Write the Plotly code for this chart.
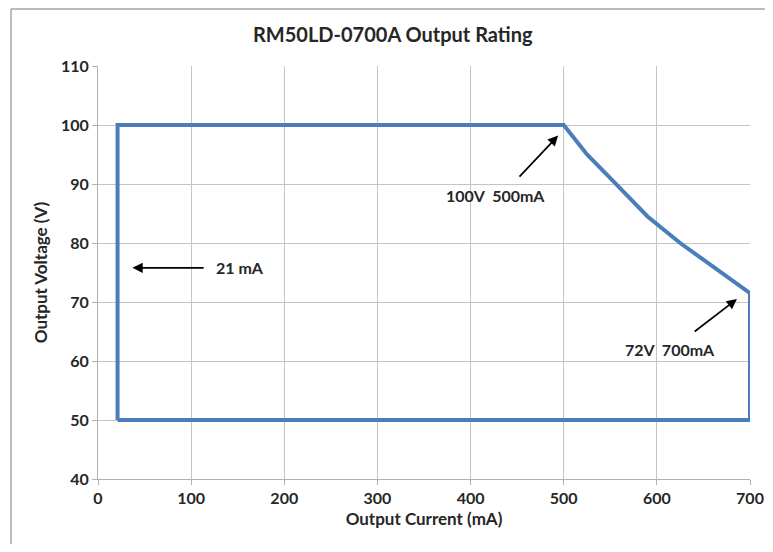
import plotly.graph_objects as go

# Data
current_ma = [21, 21, 500, 525, 550, 590, 625, 660, 700, 700, 21]
voltage_v = [50, 100, 100, 95, 91, 84.5, 80, 76, 71.5, 50, 50]

x_ticks = [0, 100, 200, 300, 400, 500, 600, 700]
y_ticks = [40, 50, 60, 70, 80, 90, 100, 110]

# annotations: (label, text_x, text_y, head_x, head_y, tail_x, tail_y)
notes = [
    ("21 mA", 152, 75.8, 37, 75.8, 115, 75.8),
    ("100V  500mA", 427, 88.1, 494, 98.2, 451, 91.0),
    ("72V  700mA", 614, 61.9, 686, 70.5, 639, 64.8),
]

FONT = "Lato"
TXT = "#262626"

fig = go.Figure()
fig.add_trace(go.Scatter(x=current_ma, y=voltage_v, mode="lines",
                         line=dict(color="#4A7EBB", width=4),
                         showlegend=False, hoverinfo="skip"))

for label, tx, ty, hx, hy, ax, ay in notes:
    fig.add_annotation(x=hx, y=hy, ax=ax, ay=ay, xref="x", yref="y",
                       axref="x", ayref="y", text="", showarrow=True,
                       arrowhead=2, arrowsize=1.2, arrowwidth=1.7,
                       arrowcolor="black")
    fig.add_annotation(x=tx, y=ty, xref="x", yref="y", text=f"<b>{label}</b>",
                       showarrow=False,
                       font=dict(family=FONT, size=16, color=TXT))

# outer chart border (left and top visible in reference)
fig.add_shape(type="line", xref="paper", yref="paper",
              x0=-0.1334, y0=-0.3, x1=-0.1334, y1=1.138,
              line=dict(color="#a6a6a6", width=1.5))
fig.add_shape(type="line", xref="paper", yref="paper",
              x0=-0.1334, y0=1.138, x1=1.2, y1=1.138,
              line=dict(color="#a6a6a6", width=1.5))

fig.update_layout(
    width=765, height=536,
    margin=dict(l=90, r=23, t=58, b=65),
    paper_bgcolor="white", plot_bgcolor="white",
    title=dict(text="<b>RM50LD-0700A Output Rating</b>", x=0.503, xanchor="center",
               y=0.95, yanchor="middle",
               font=dict(family=FONT, size=20, color=TXT)),
    font=dict(family=FONT, color=TXT),
)
fig.update_xaxes(range=[0, 700], tickvals=x_ticks, automargin=False,
                 ticktext=[f"<b>{v}</b>" for v in x_ticks],
                 showgrid=True, gridcolor="#c4c4c4", gridwidth=1,
                 showline=True, linecolor="#b0b0b0", linewidth=1,
                 ticks="outside", ticklen=5, tickcolor="#b0b0b0",
                 zeroline=False, tickfont=dict(family=FONT, size=16, color=TXT),
                 title=dict(text="<b>Output Current (mA)</b>", standoff=6,
                            font=dict(family=FONT, size=17, color=TXT)))
fig.update_yaxes(range=[40, 110], tickvals=y_ticks, automargin=False,
                 ticktext=[f"<b>{v}</b>" for v in y_ticks],
                 showgrid=True, gridcolor="#c4c4c4", gridwidth=1,
                 showline=True, linecolor="#b0b0b0", linewidth=1,
                 ticks="outside", ticklen=5, tickcolor="#b0b0b0",
                 zeroline=False, tickfont=dict(family=FONT, size=16, color=TXT),
                 title=dict(text="<b>Output Voltage (V)</b>", standoff=9,
                            font=dict(family=FONT, size=17, color=TXT)))

fig.write_html("out.html")
